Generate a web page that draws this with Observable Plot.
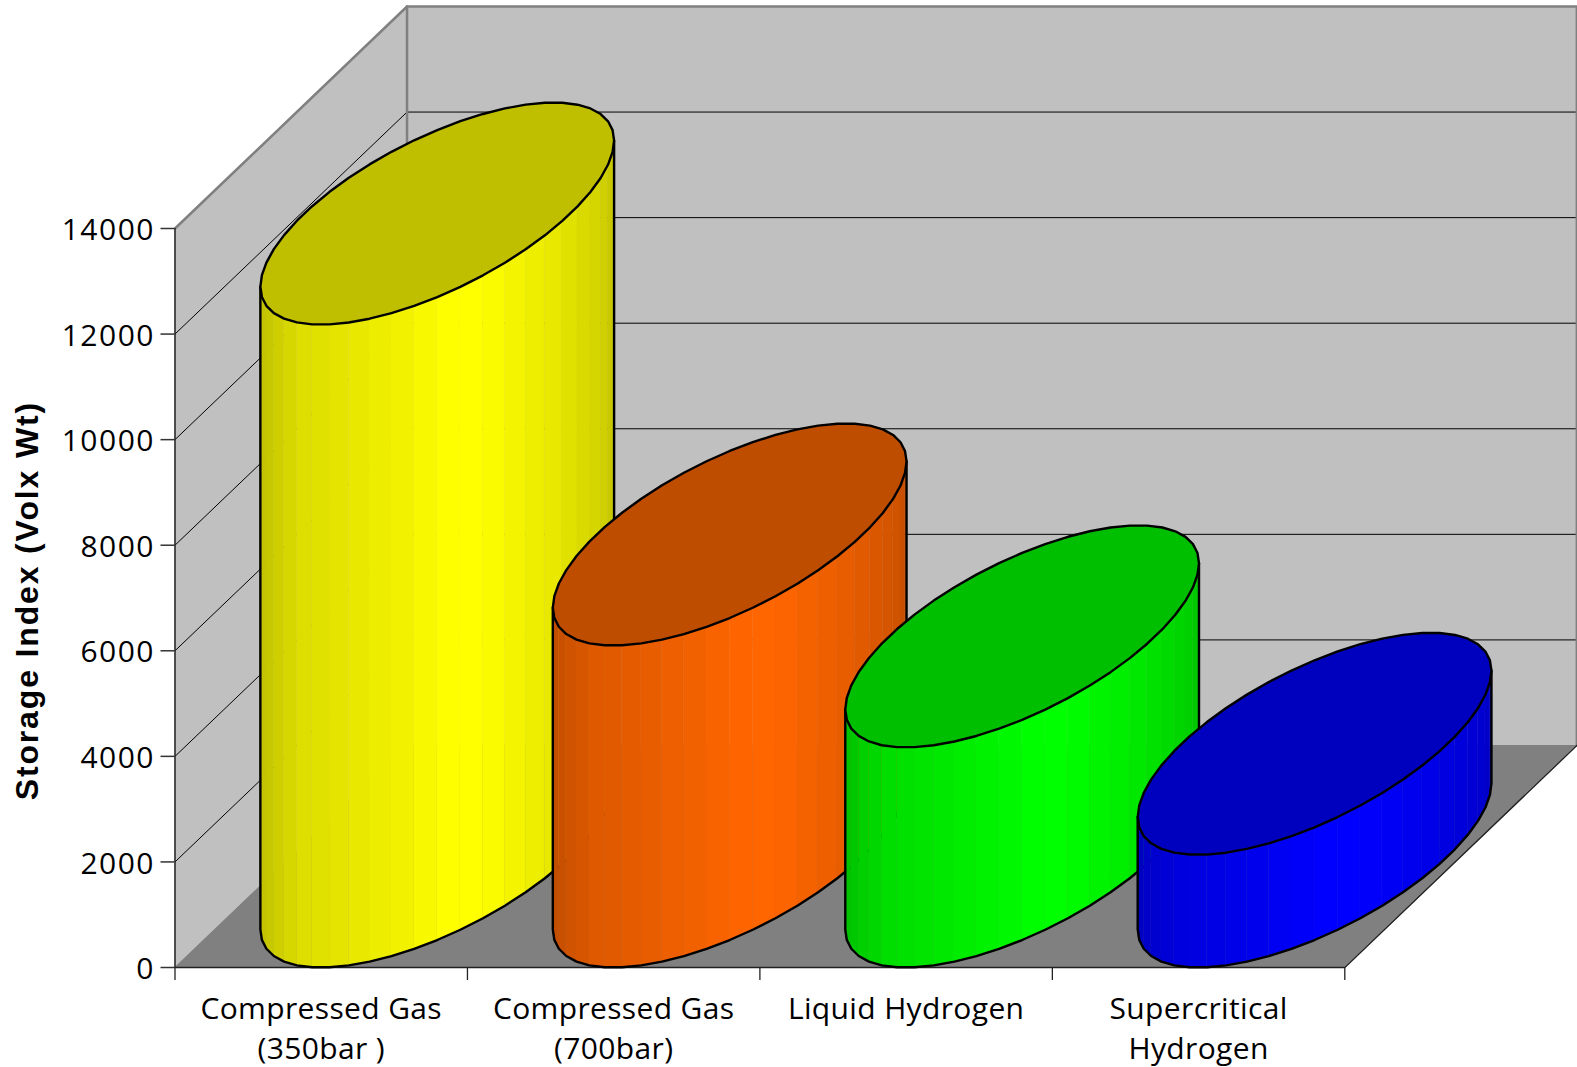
<!DOCTYPE html>
<html>
<head>
<meta charset="utf-8">
<script src="https://cdn.jsdelivr.net/npm/d3@7"></script>
<script src="https://cdn.jsdelivr.net/npm/@observablehq/plot@0.6"></script>
<style>
html,body{margin:0;padding:0;background:#fff}
svg{display:block}
.ytick text{letter-spacing:1.5px}
.xlab text{letter-spacing:.36px}
.ytitle text{letter-spacing:1.85px}
</style>
</head>
<body>
<div id="chart"></div>
<script>
const categories = ["Compressed Gas\n(350bar )", "Compressed Gas\n(700bar)", "Liquid Hydrogen", "Supercritical\nHydrogen"];
const storageIndex = [12180, 6100, 4170, 2135];
const yTicks = [0, 2000, 4000, 6000, 8000, 10000, 12000, 14000];
const xTicks = [0, 1, 2, 3, 4];
const sideColors = [[255, 255, 0], [255, 102, 0], [0, 255, 0], [0, 0, 255]];
const yMax = 14000;

// oblique projection: depth 0..1 shifts a point right (category units) and up (value units)
const depthX = 0.7934, depthY = 4206;
const halfWidth = 0.455, skewX = 0.3984, halfDepth = 0.5, facets = 48;
const shadeStops = [[0,.75],[.04,.8],[.12,.87],[.25,.9],[.55,1],[.62,1],[.85,.9],[.97,.82],[1,.77]];
const shadeAt = d3.scaleLinear(shadeStops.map(d => d[0]), shadeStops.map(d => d[1]));
const tint = (c, s) => `rgb(${c.map(v => Math.round(v * s)).join(",")})`;

const phase = Math.atan2(skewX, halfWidth);
const tLeft = Math.PI + phase, step = 2 * Math.PI / facets;
const rim = (i, k) => {
  const t = tLeft + k * step, c = Math.cos(t), s = Math.sin(t);
  return {
    x: i + 0.5 + 0.5 * depthX + halfWidth * c + skewX * s,
    lift: (0.5 + halfDepth * s) * depthY
  };
};
const extent = Math.hypot(halfWidth, skewX);

const font = "'Open Sans','Noto Sans',sans-serif";
const wallGray = "#c0c0c0", floorGray = "#808080", edgeGray = "#808080";

const marks = [];
// walls and floor
marks.push(Plot.area([0, 1], {x1: d => d * depthX, y1: d => d * depthY, y2: d => yMax + d * depthY, fill: wallGray}));
marks.push(Plot.area([0, 4], {x1: d => d + depthX, y1: depthY, y2: yMax + depthY, fill: wallGray}));
marks.push(Plot.areaX([0, 1], {y: d => d * depthY, x1: d => d * depthX, x2: d => 4 + d * depthX, fill: floorGray}));
// gridlines on the two walls
yTicks.slice(1, -1).forEach(v => {
  marks.push(Plot.line([[0, v], [depthX, v + depthY], [4 + depthX, v + depthY]], {x: d => d[0], y: d => d[1], stroke: "#000", strokeWidth: 1}));
});
// top edges
marks.push(Plot.line([[0, yMax], [depthX, yMax + depthY], [4 + depthX, yMax + depthY], [4 + depthX, depthY]], {x: d => d[0], y: d => d[1], stroke: edgeGray, strokeWidth: 2.5}));
marks.push(Plot.line([[depthX, yMax + depthY], [depthX, depthY]], {x: d => d[0], y: d => d[1], stroke: edgeGray, strokeWidth: 2.5}));
// floor edges and value axis line
marks.push(Plot.line([[0, 0], [4, 0], [4 + depthX, depthY]], {x: d => d[0], y: d => d[1], stroke: "#222", strokeWidth: 1.5}));
marks.push(Plot.ruleX([0], {y1: 0, y2: yMax, stroke: "#222", strokeWidth: 1.5}));

// cylinders
categories.forEach((name, i) => {
  const v = storageIndex[i], c = sideColors[i];
  const strips = [];
  const centre = i + 0.5 + 0.5 * depthX;
  for (let k = 0; k < facets / 2; k++) {
    const a = rim(i, k), b = rim(i, k + 1);
    const f = Math.min(1, Math.max(0, ((a.x + b.x) / 2 - centre + extent) / (2 * extent)));
    const col = tint(c, shadeAt(f));
    strips.push({k, x: a.x, y1: a.lift, y2: a.lift + v, col}, {k, x: b.x, y1: b.lift, y2: b.lift + v, col});
  }
  marks.push(Plot.area(strips, {x1: "x", y1: "y1", y2: "y2", z: "k", fill: "col", stroke: "col", strokeWidth: 0.4}));
  const front = d3.range(0, facets / 2 + 1).map(k => rim(i, k));
  const outline = [{x: front[0].x, y: front[0].lift + v}]
    .concat(front.map(p => ({x: p.x, y: p.lift})))
    .concat([{x: front[front.length - 1].x, y: front[front.length - 1].lift + v}]);
  marks.push(Plot.line(outline, {x: "x", y: "y", stroke: "#000", strokeWidth: 2.4, strokeLinejoin: "round"}));
  const top = d3.range(0, facets + 1).map(k => { const p = rim(i, k); return {x: p.x, y: p.lift + v}; });
  marks.push(Plot.line(top, {x: "x", y: "y", fill: tint(c, 0.75), stroke: "#000", strokeWidth: 2.4, strokeLinejoin: "round"}));
});

// axes and labels
marks.push(Plot.axisY({ticks: yTicks, tickSize: 14, label: null, fill: "none", stroke: "#333", strokeWidth: 1.5}));
marks.push(Plot.axisY({ticks: yTicks, tickFormat: d => String(d), tickSize: 0, tickPadding: 20, dy: 2, label: null, fontSize: 30, stroke: "none", fill: "#000", className: "ytick"}));
marks.push(Plot.axisX({ticks: xTicks, tickFormat: () => "", tickSize: 13, label: null, stroke: "#222", strokeWidth: 1.3}));
marks.push(Plot.text(categories, {
  x: (d, i) => i + 0.5, y: 0, text: d => d, dy: 23, lineAnchor: "top", lineHeight: 1.33,
  fontSize: 30, fontFamily: font, fill: "#000", className: "xlab"
}));
marks.push(Plot.text(["Storage Index (Volx Wt)"], {
  x: -0.503, y: 6950, text: d => d, rotate: -90, fontSize: 32, fontWeight: "bold",
  fontFamily: "'Liberation Sans',sans-serif", fill: "#000", className: "ytitle"
}));

const chart = Plot.plot({
  width: 1577,
  height: 1067,
  marginLeft: 174.5,
  marginRight: 232.7,
  marginTop: 228,
  marginBottom: 100,
  x: {domain: [0, 4]},
  y: {domain: [0, yMax]},
  color: {type: "identity"},
  style: {fontFamily: font, background: "#fff", overflow: "visible"},
  marks
});
document.getElementById("chart").appendChild(chart);
</script>
</body>
</html>
